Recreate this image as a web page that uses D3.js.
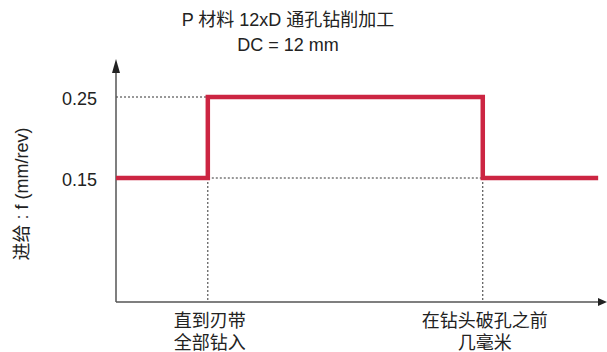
<!DOCTYPE html>
<html>
<head>
<meta charset="utf-8">
<script src="https://cdn.jsdelivr.net/npm/d3@7"></script>
<style>
  body { margin: 0; background: #fff; }
  text { font-family: "Liberation Sans", Arial, "Noto Sans CJK SC", sans-serif; fill: #222; }
</style>
</head>
<body>
<script>
// feed steps along the drilling depth (arbitrary depth units)
var depth = [0, 18.7, 74.7, 98.2];
var feed = [0.15, 0.25, 0.15, 0.15];
var yTicks = [0.15, 0.25];
var titleLines = ["P 材料 12xD 通孔钻削加工", "DC = 12 mm"];
var stageLabels = [
  { at: 18.7, lines: ["直到刃带", "全部钻入"] },
  { at: 74.7, lines: ["在钻头破孔之前", "几毫米"] }
];
var yLabel = "进给 : f (mm/rev)";

var width = 607, height = 352;
var baseY = 302;

var svg = d3.select("body").append("svg")
  .attr("width", width)
  .attr("height", height);

var x = d3.scaleLinear().domain([0, 100]).range([116, 607]);
var y = d3.scaleLinear().domain([0.15, 0.25]).range([178, 97]);

var axisColor = "#555";
var red = "#cc2542";

// title
svg.append("g").selectAll("text")
  .data(titleLines)
  .enter().append("text")
  .attr("x", 288)
  .attr("y", function(d, i) { return 26 + i * 25; })
  .attr("text-anchor", "middle")
  .style("font-size", "18px")
  .text(function(d) { return d; });

// dotted guides
var guides = svg.append("g")
  .attr("stroke", "#333")
  .attr("stroke-width", 1)
  .attr("stroke-dasharray", "2,2");

// upper level guide back to axis
guides.append("line")
  .attr("x1", x(0)).attr("x2", x(depth[1]))
  .attr("y1", y(feed[1])).attr("y2", y(feed[1]));
// lower level guide between the steps
guides.append("line")
  .attr("x1", x(depth[1])).attr("x2", x(depth[2]))
  .attr("y1", y(feed[0])).attr("y2", y(feed[0]));
[depth[1], depth[2]].forEach(function(d) {
  guides.append("line")
    .attr("x1", x(d)).attr("x2", x(d))
    .attr("y1", y(feed[0])).attr("y2", baseY);
});

// axes
svg.append("line")
  .attr("x1", x(0)).attr("x2", x(0))
  .attr("y1", baseY).attr("y2", 70)
  .attr("stroke", axisColor).attr("stroke-width", 1.5);
svg.append("line")
  .attr("x1", x(0)).attr("x2", 600)
  .attr("y1", baseY).attr("y2", baseY)
  .attr("stroke", axisColor).attr("stroke-width", 1.5);
svg.append("path")
  .attr("d", "M" + x(0) + ",59 L" + (x(0) - 4) + ",73 L" + (x(0) + 4) + ",73 Z")
  .attr("fill", "#222");
svg.append("path")
  .attr("d", "M607," + baseY + " L598," + (baseY - 4) + " L598," + (baseY + 4) + " Z")
  .attr("fill", "#222");

// y tick labels
svg.append("g").selectAll("text")
  .data(yTicks)
  .enter().append("text")
  .attr("x", 97)
  .attr("y", function(d) { return y(d); })
  .attr("dy", "0.45em")
  .attr("text-anchor", "end")
  .style("font-size", "18px")
  .text(function(d) { return d.toFixed(2); });

// y axis label
svg.append("text")
  .attr("transform", "translate(28,194) rotate(-90)")
  .attr("text-anchor", "middle")
  .style("font-size", "18px")
  .text(yLabel);

// feed line
var line = d3.line()
  .curve(d3.curveStepAfter)
  .x(function(d) { return x(d[0]); })
  .y(function(d) { return y(d[1]); });

svg.append("path")
  .datum(d3.zip(depth, feed))
  .attr("fill", "none")
  .attr("stroke", red)
  .attr("stroke-width", 4.5)
  .attr("stroke-linejoin", "miter")
  .attr("d", line);

// stage labels under x axis
stageLabels.forEach(function(s) {
  svg.append("g").selectAll("text")
    .data(s.lines)
    .enter().append("text")
    .attr("x", x(s.at) + 2)
    .attr("y", function(d, i) { return 327 + i * 22; })
    .attr("text-anchor", "middle")
    .style("font-size", "18px")
    .text(function(d) { return d; });
});
</script>
</body>
</html>
